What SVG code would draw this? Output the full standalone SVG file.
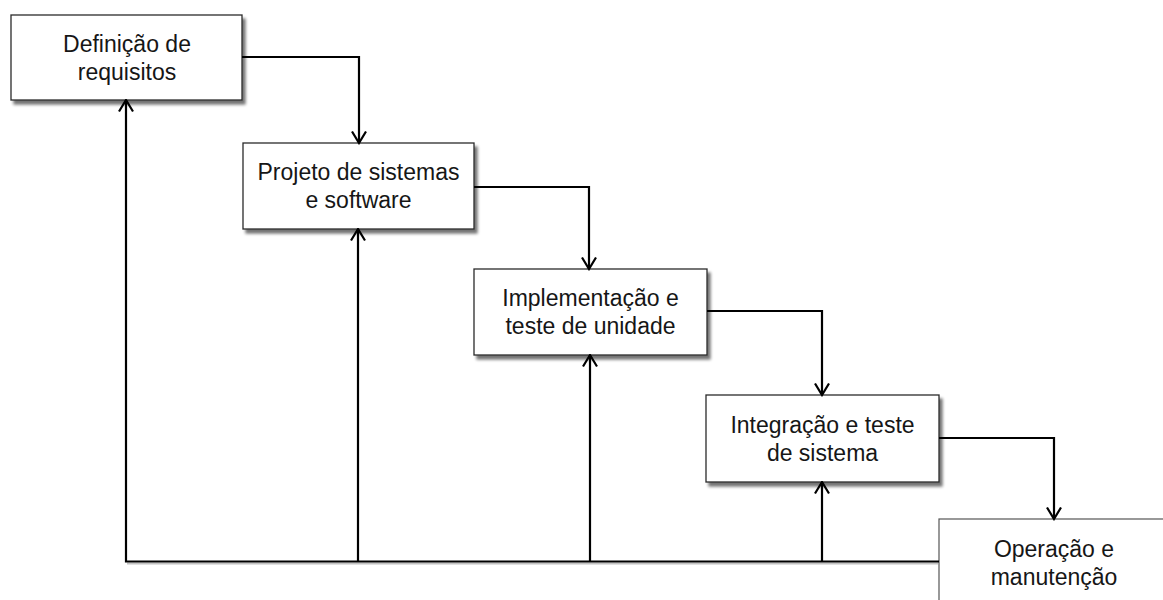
<svg xmlns="http://www.w3.org/2000/svg" width="1163" height="600" viewBox="0 0 1163 600">
<defs>
<style>
.box{fill:#ffffff;stroke:#2a2a2a;stroke-width:1.3}
.lbl{font-family:"Liberation Sans",Arial,sans-serif;font-size:23px;fill:#161616;text-anchor:middle}
.con{fill:none;stroke:#000000;stroke-width:2.2}
.shd{fill:none;stroke:#9a9a9a;stroke-width:2;opacity:0.6}
</style>
<filter id="sh" x="-10%" y="-10%" width="130%" height="140%">
<feGaussianBlur in="SourceAlpha" stdDeviation="1.8"/>
<feOffset dx="3" dy="4" result="b"/>
<feComponentTransfer><feFuncA type="linear" slope="0.55"/></feComponentTransfer>
<feMerge><feMergeNode/><feMergeNode in="SourceGraphic"/></feMerge>
</filter>
<marker id="ah" viewBox="0 0 14 16" refX="12.5" refY="8" markerWidth="14" markerHeight="16" markerUnits="userSpaceOnUse" orient="auto">
<path d="M1,1 L12.5,8 L1,15" fill="none" stroke="#000" stroke-width="2.2"/>
</marker>
</defs>
<rect width="1163" height="600" fill="#ffffff"/>

<g id="n1">
<rect class="box" x="11" y="15" width="231" height="85" filter="url(#sh)"/>
<text class="lbl" x="127" y="52">Definição de</text>
<text class="lbl" x="127" y="80">requisitos</text>
</g>
<g id="n2">
<rect class="box" x="243" y="143" width="231" height="86" filter="url(#sh)"/>
<text class="lbl" x="358.5" y="180">Projeto de sistemas</text>
<text class="lbl" x="358.5" y="208">e software</text>
</g>
<g id="n3">
<rect class="box" x="474" y="269" width="233" height="86" filter="url(#sh)"/>
<text class="lbl" x="590.5" y="306">Implementação e</text>
<text class="lbl" x="590.5" y="334">teste de unidade</text>
</g>
<g id="n4">
<rect class="box" x="706" y="395" width="233" height="87" filter="url(#sh)"/>
<text class="lbl" x="822.5" y="433">Integração e teste</text>
<text class="lbl" x="822.5" y="461">de sistema</text>
</g>
<g id="n5">
<rect class="box" x="939" y="519" width="231" height="90" style="stroke:#555;stroke-width:1.2"/>
<text class="lbl" x="1054" y="557">Operação e</text>
<text class="lbl" x="1054" y="585">manutenção</text>
</g>

<g id="connectors">
<path class="shd" d="M127,563.5 H939"/>
<path class="con" d="M242,57 H359 V143" marker-end="url(#ah)"/>
<path class="con" d="M474,187 H589 V269" marker-end="url(#ah)"/>
<path class="con" d="M707,311 H822 V395" marker-end="url(#ah)"/>
<path class="con" d="M939,438 H1054 V519" marker-end="url(#ah)"/>
<path class="con" d="M939,561.5 H126 V100" marker-end="url(#ah)"/>
<path class="con" d="M358,561.5 V229" marker-end="url(#ah)"/>
<path class="con" d="M590,561.5 V355" marker-end="url(#ah)"/>
<path class="con" d="M822,561.5 V482" marker-end="url(#ah)"/>
</g>
</svg>
